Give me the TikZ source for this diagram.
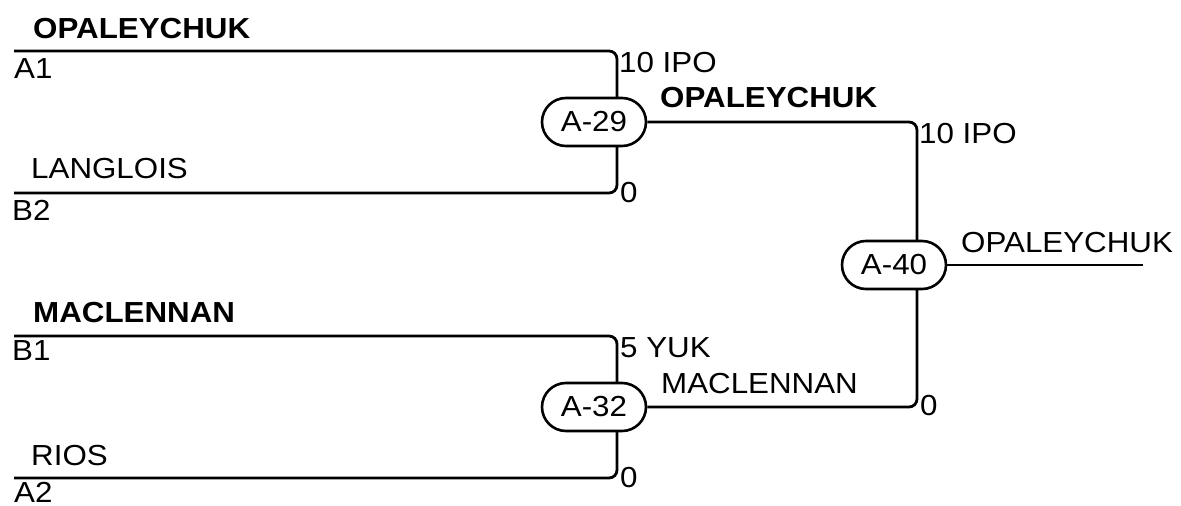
\documentclass[tikz,border=0pt]{standalone}
\usepackage{fontspec}
\setmainfont{Liberation Sans}[FakeStretch=1.08]
\usetikzlibrary{shapes.misc,backgrounds}
\begin{document}
\begin{tikzpicture}[x=1pt,y=-1pt,
  every node/.style={inner sep=0pt,font=\fontsize{29}{34}\selectfont},
  lbl/.style={anchor=base west},
  blbl/.style={anchor=base west,font=\fontsize{29}{34}\selectfont\bfseries},
  game/.style={rounded rectangle,draw,line width=2.6pt,fill=white,minimum width=104pt,minimum height=48pt},
  wire/.style={line width=2.8pt,rounded corners=8pt}]
\useasboundingbox (0,0) rectangle (1181,506);
% slots
\coordinate (a1) at (14,51);
\coordinate (b2) at (14,193);
\coordinate (b1) at (14,336);
\coordinate (a2) at (14,478);
\coordinate (j29) at (617,122);
\coordinate (j32) at (617,407);
\coordinate (j40) at (917,265);
\coordinate (out) at (1143,265);
% games
\node[game] (n29) at (594,122) {A-29};
\node[game] (n32) at (594,407) {A-32};
\node[game] (n40) at (894,265) {A-40};
\begin{scope}[on background layer]
\draw[wire] (a1) -| (j29) |- (b2);
\draw[wire] (b1) -| (j32) |- (a2);
\draw[wire] (n29.east) -| (j40) |- (n32.east);
\draw[wire] (n40.east) -- (out);
\end{scope}
% labels
\node[blbl] (t1) at (33,38) {OPALEYCHUK};
\node[lbl] (t2) at (14,78) {A1};
\node[lbl] (t3) at (619,72) {10 IPO};
\node[blbl] (t4) at (660,107) {OPALEYCHUK};
\node[lbl] (t5) at (31,178) {LANGLOIS};
\node[lbl] (t6) at (620,202) {0};
\node[lbl] (t7) at (12,220) {B2};
\node[lbl] (t8) at (919,143) {10 IPO};
\node[lbl] (t9) at (961,252) {OPALEYCHUK};
\node[blbl] (t10) at (33,322) {MACLENNAN};
\node[lbl] (t11) at (12,360) {B1};
\node[lbl] (t12) at (620,357) {5 YUK};
\node[lbl] (t13) at (661,393) {MACLENNAN};
\node[lbl] (t14) at (920,415) {0};
\node[lbl] (t15) at (31,465) {RIOS};
\node[lbl] (t16) at (620,487) {0};
\node[lbl] (t17) at (14,502) {A2};
\end{tikzpicture}
\end{document}
